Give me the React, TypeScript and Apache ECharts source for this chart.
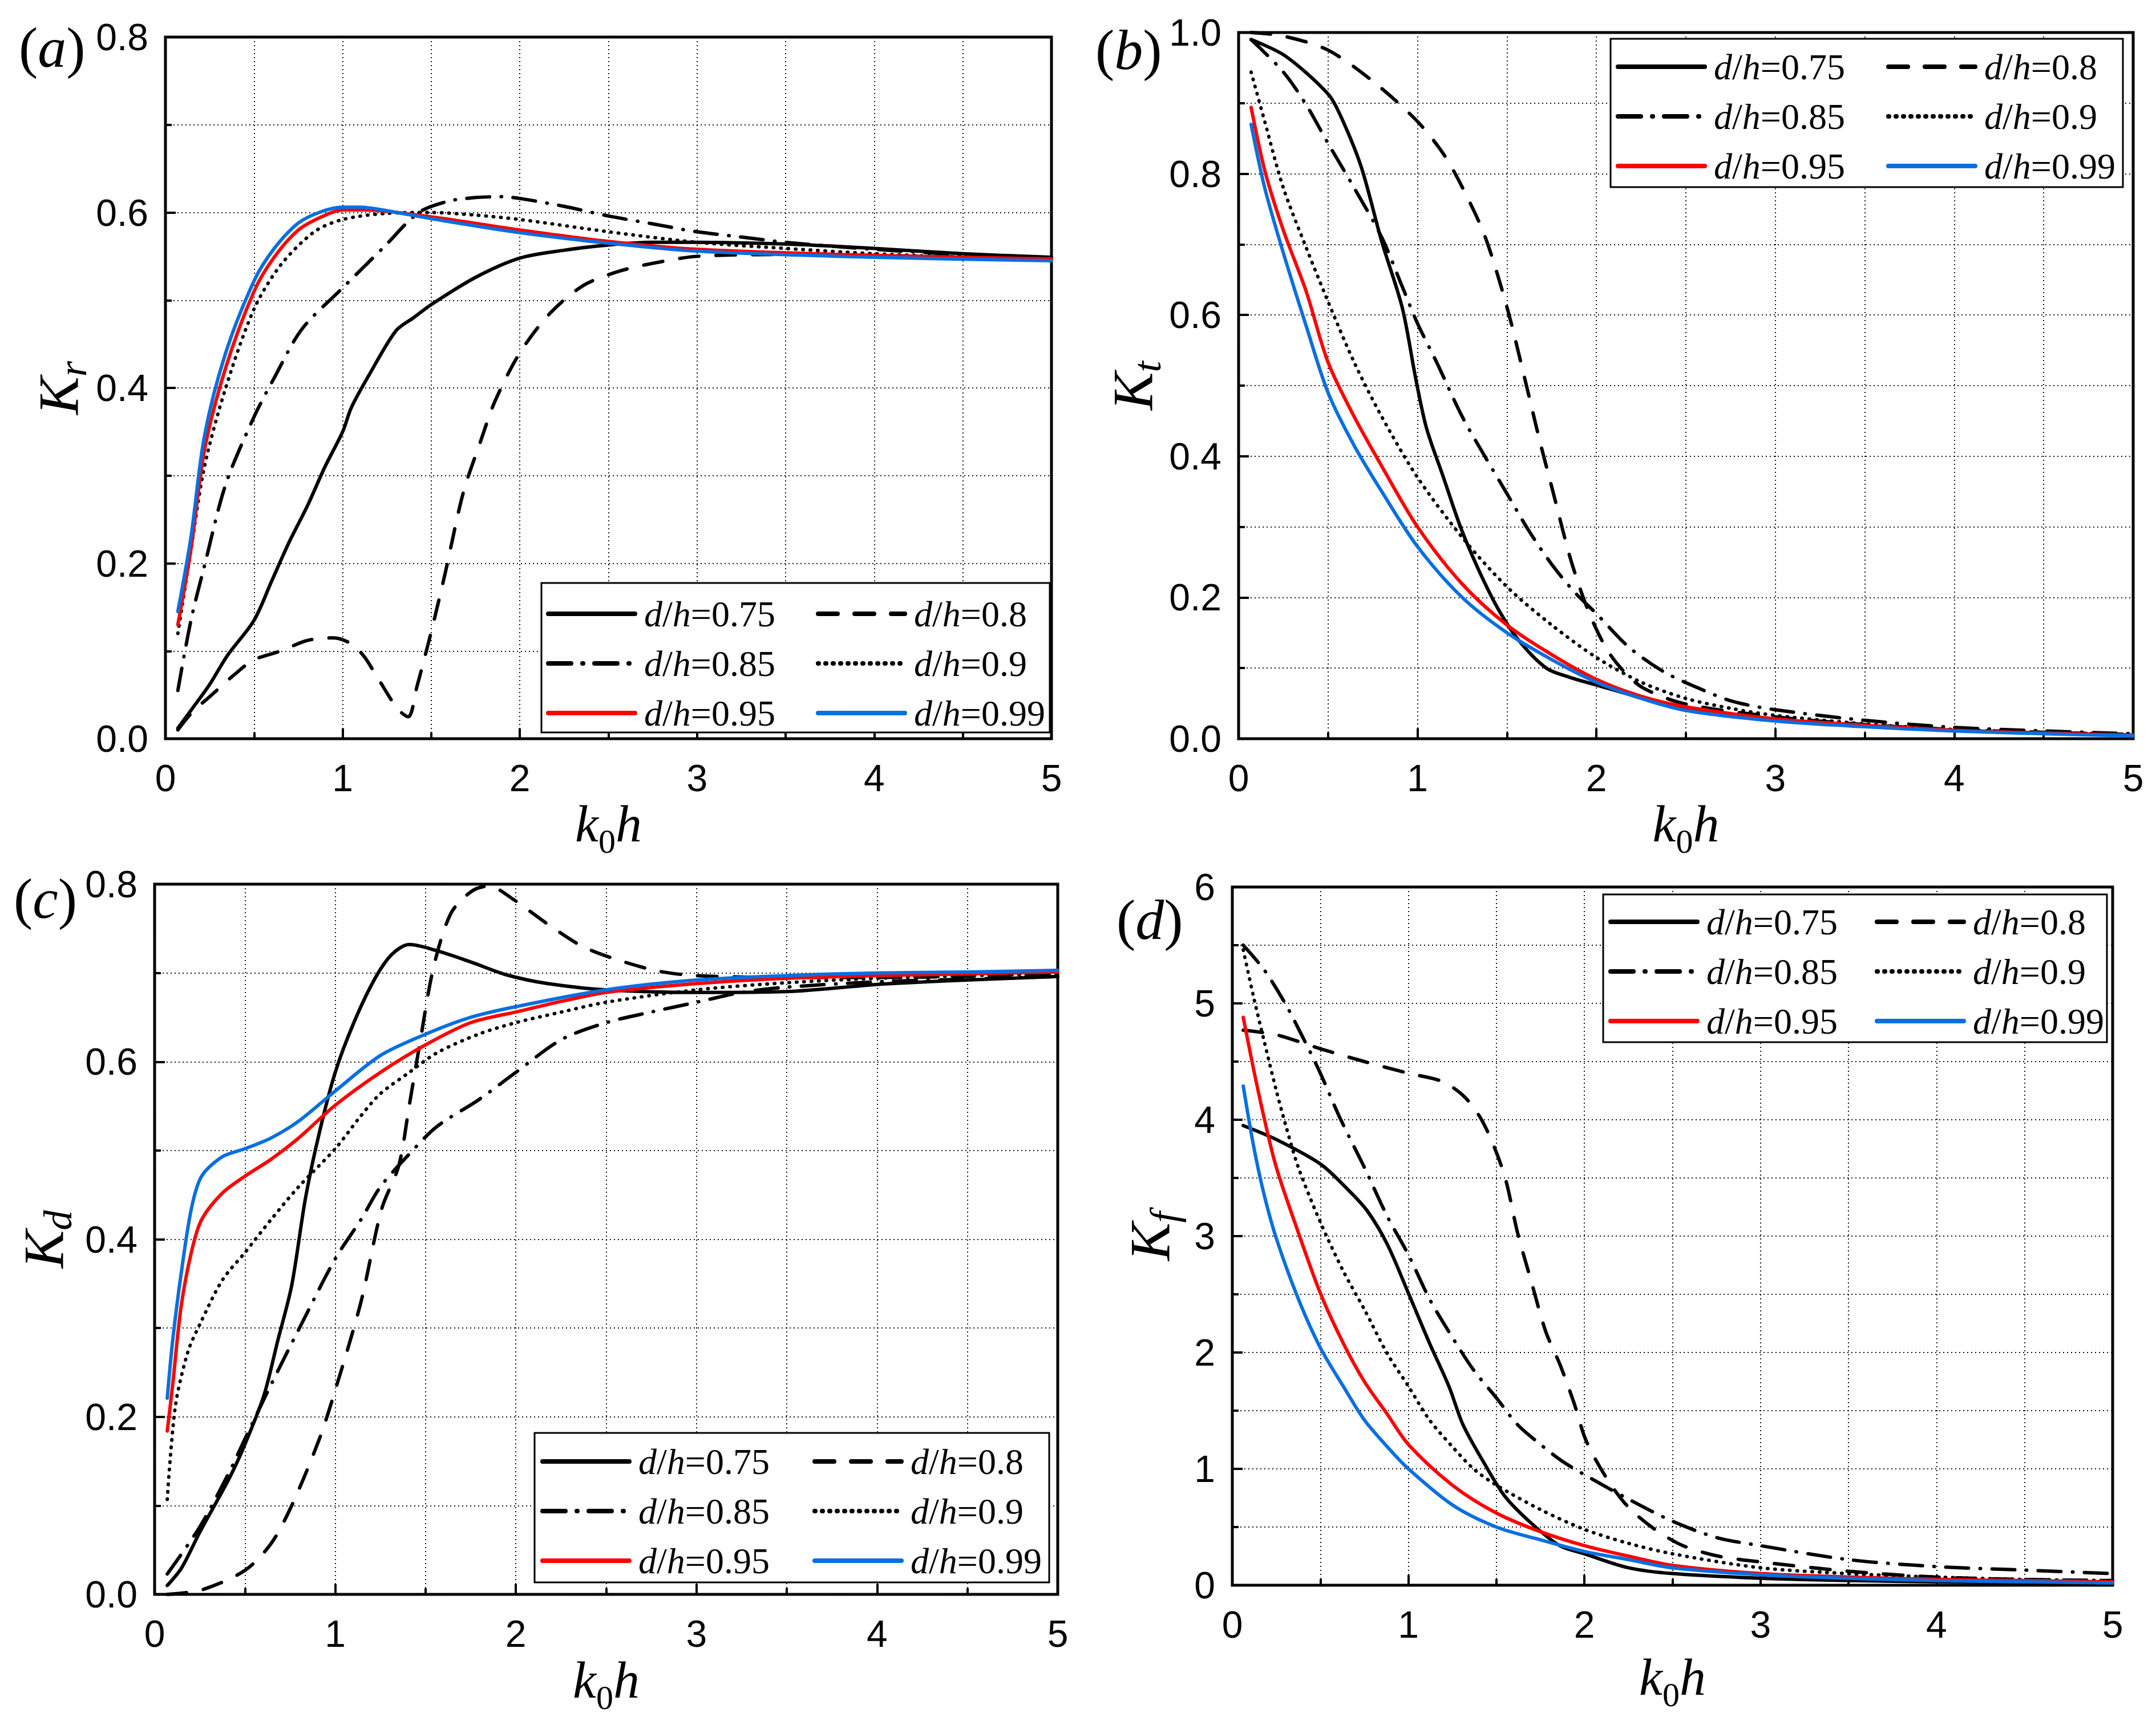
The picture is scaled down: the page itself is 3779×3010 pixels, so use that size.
import React, { useEffect, useRef } from 'react';
import * as echarts from 'echarts';

// (a) Kr
const kr075 = [[0.07, 0.012], [0.15, 0.034], [0.25, 0.062], [0.35, 0.095], [0.5, 0.135], [0.6, 0.18], [0.7, 0.225], [0.8, 0.265], [0.9, 0.31], [1.0, 0.35], [1.05, 0.378], [1.15, 0.415], [1.3, 0.465], [1.4, 0.48], [1.5, 0.495], [1.75, 0.526], [2.0, 0.548], [2.25, 0.557], [2.5, 0.563], [2.75, 0.566], [3.0, 0.566], [3.5, 0.564], [4.0, 0.559], [4.5, 0.553], [5.0, 0.549]];
const kr080 = [[0.07, 0.01], [0.15, 0.03], [0.25, 0.048], [0.4, 0.075], [0.5, 0.09], [0.65, 0.1], [0.8, 0.112], [0.95, 0.115], [1.05, 0.108], [1.12, 0.094], [1.19, 0.072], [1.31, 0.034], [1.37, 0.025], [1.42, 0.06], [1.5, 0.122], [1.58, 0.19], [1.68, 0.28], [1.78, 0.34], [1.86, 0.385], [2.0, 0.44], [2.17, 0.485], [2.36, 0.517], [2.56, 0.533], [2.75, 0.542], [3.0, 0.55], [3.5, 0.552], [4.0, 0.551], [4.5, 0.549], [5.0, 0.547]];
const kr085 = [[0.07, 0.055], [0.144, 0.135], [0.22, 0.197], [0.34, 0.29], [0.5, 0.367], [0.61, 0.41], [0.77, 0.467], [1.0, 0.514], [1.23, 0.56], [1.43, 0.6], [1.6, 0.613], [1.75, 0.617], [1.9, 0.618], [2.0, 0.616], [2.25, 0.607], [2.5, 0.596], [2.75, 0.587], [3.0, 0.578], [3.25, 0.572], [3.5, 0.566], [4.0, 0.558], [4.5, 0.552], [5.0, 0.548]];
const kr090 = [[0.07, 0.12], [0.14, 0.21], [0.22, 0.31], [0.34, 0.4], [0.5, 0.49], [0.65, 0.54], [0.84, 0.578], [1.0, 0.592], [1.25, 0.599], [1.5, 0.6], [1.75, 0.597], [2.0, 0.592], [2.5, 0.578], [3.0, 0.566], [3.5, 0.559], [4.0, 0.553], [4.5, 0.549], [5.0, 0.547]];
const kr095 = [[0.07, 0.13], [0.144, 0.216], [0.22, 0.329], [0.34, 0.423], [0.5, 0.51], [0.61, 0.548], [0.75, 0.58], [0.88, 0.595], [1.0, 0.603], [1.12, 0.603], [1.5, 0.595], [2.0, 0.58], [2.5, 0.567], [3.0, 0.558], [4.0, 0.551], [5.0, 0.547]];
const kr099 = [[0.07, 0.145], [0.144, 0.23], [0.22, 0.345], [0.34, 0.44], [0.5, 0.522], [0.61, 0.558], [0.75, 0.588], [0.88, 0.601], [1.0, 0.606], [1.1, 0.606], [1.25, 0.602], [1.5, 0.593], [2.0, 0.577], [2.5, 0.565], [3.0, 0.556], [4.0, 0.549], [5.0, 0.545]];

// (b) Kt
const kt075 = [[0.07, 0.99], [0.26, 0.967], [0.5, 0.913], [0.57, 0.882], [0.685, 0.81], [0.8, 0.704], [0.915, 0.61], [0.99, 0.51], [1.05, 0.44], [1.145, 0.37], [1.24, 0.3], [1.34, 0.24], [1.45, 0.184], [1.57, 0.138], [1.72, 0.1], [1.85, 0.087], [2.0, 0.076], [2.25, 0.058], [2.5, 0.044], [2.75, 0.034], [3.0, 0.027], [3.5, 0.018], [4.0, 0.012], [4.5, 0.008], [5.0, 0.005]];
const kt080 = [[0.07, 1.0], [0.25, 0.995], [0.5, 0.975], [0.76, 0.929], [1.0, 0.874], [1.145, 0.828], [1.25, 0.781], [1.376, 0.712], [1.5, 0.611], [1.607, 0.502], [1.68, 0.425], [1.76, 0.347], [1.856, 0.254], [1.95, 0.184], [2.05, 0.13], [2.14, 0.099], [2.26, 0.072], [2.5, 0.049], [3.0, 0.031], [3.5, 0.02], [4.0, 0.013], [4.5, 0.009], [5.0, 0.006]];
const kt085 = [[0.07, 0.99], [0.25, 0.944], [0.377, 0.898], [0.5, 0.843], [0.646, 0.78], [0.8, 0.71], [0.915, 0.64], [1.0, 0.588], [1.107, 0.533], [1.25, 0.456], [1.376, 0.4], [1.5, 0.347], [1.626, 0.293], [1.75, 0.247], [1.876, 0.208], [2.0, 0.177], [2.18, 0.13], [2.375, 0.095], [2.567, 0.072], [2.76, 0.053], [3.0, 0.041], [3.5, 0.026], [4.0, 0.016], [4.5, 0.011], [5.0, 0.007]];
const kt090 = [[0.07, 0.944], [0.146, 0.874], [0.25, 0.78], [0.377, 0.696], [0.5, 0.619], [0.646, 0.533], [0.8, 0.456], [1.0, 0.37], [1.25, 0.285], [1.5, 0.215], [1.75, 0.161], [2.0, 0.115], [2.25, 0.08], [2.5, 0.057], [2.75, 0.043], [3.0, 0.033], [3.5, 0.021], [4.0, 0.013], [4.5, 0.009], [5.0, 0.006]];
const kt095 = [[0.07, 0.894], [0.146, 0.805], [0.25, 0.72], [0.377, 0.634], [0.5, 0.533], [0.646, 0.456], [0.8, 0.386], [1.0, 0.3], [1.25, 0.219], [1.5, 0.161], [1.75, 0.119], [2.0, 0.084], [2.25, 0.06], [2.5, 0.045], [3.0, 0.028], [3.5, 0.019], [4.0, 0.012], [4.5, 0.008], [5.0, 0.005]];
const kt099 = [[0.07, 0.87], [0.146, 0.78], [0.25, 0.688], [0.377, 0.585], [0.5, 0.49], [0.646, 0.415], [0.8, 0.35], [1.0, 0.272], [1.25, 0.2], [1.5, 0.15], [1.75, 0.112], [2.0, 0.08], [2.25, 0.057], [2.5, 0.04], [3.0, 0.025], [3.5, 0.017], [4.0, 0.011], [4.5, 0.007], [5.0, 0.004]];

// (c) Kd
const kd075 = [[0.07, 0.01], [0.15, 0.03], [0.25, 0.07], [0.414, 0.131], [0.5, 0.169], [0.605, 0.224], [0.682, 0.286], [0.759, 0.348], [0.835, 0.446], [0.912, 0.52], [1.0, 0.588], [1.103, 0.644], [1.218, 0.693], [1.314, 0.721], [1.41, 0.732], [1.563, 0.725], [1.755, 0.712], [1.946, 0.698], [2.176, 0.688], [2.5, 0.681], [3.0, 0.678], [3.5, 0.679], [4.0, 0.687], [4.5, 0.692], [5.0, 0.696]];
const kd080 = [[0.07, 0.0], [0.26, 0.005], [0.5, 0.027], [0.644, 0.057], [0.759, 0.1], [0.912, 0.175], [1.0, 0.23], [1.142, 0.329], [1.257, 0.434], [1.352, 0.483], [1.41, 0.551], [1.467, 0.619], [1.544, 0.706], [1.64, 0.767], [1.755, 0.792], [1.85, 0.798], [1.985, 0.783], [2.176, 0.755], [2.368, 0.73], [2.56, 0.715], [2.79, 0.702], [3.0, 0.697], [3.5, 0.695], [4.0, 0.695], [4.5, 0.696], [5.0, 0.698]];
const kd085 = [[0.07, 0.023], [0.25, 0.076], [0.414, 0.138], [0.5, 0.175], [0.644, 0.236], [0.797, 0.298], [1.0, 0.378], [1.142, 0.422], [1.25, 0.459], [1.41, 0.496], [1.563, 0.527], [1.793, 0.557], [2.0, 0.588], [2.253, 0.625], [2.5, 0.644], [2.75, 0.656], [3.0, 0.667], [3.25, 0.678], [3.5, 0.684], [4.0, 0.69], [4.5, 0.693], [5.0, 0.696]];
const kd090 = [[0.07, 0.107], [0.115, 0.212], [0.184, 0.273], [0.25, 0.304], [0.375, 0.354], [0.5, 0.385], [0.644, 0.422], [0.797, 0.459], [1.0, 0.502], [1.142, 0.539], [1.25, 0.564], [1.41, 0.588], [1.563, 0.61], [1.793, 0.631], [2.0, 0.644], [2.253, 0.656], [2.5, 0.667], [3.0, 0.681], [3.5, 0.689], [4.0, 0.694], [4.5, 0.697], [5.0, 0.699]];
const kd095 = [[0.07, 0.184], [0.1, 0.236], [0.146, 0.323], [0.203, 0.385], [0.26, 0.422], [0.375, 0.452], [0.5, 0.471], [0.644, 0.49], [0.797, 0.514], [1.0, 0.551], [1.25, 0.588], [1.5, 0.619], [1.75, 0.644], [2.0, 0.656], [2.253, 0.668], [2.5, 0.678], [3.0, 0.688], [3.5, 0.694], [4.0, 0.697], [4.5, 0.699], [5.0, 0.701]];
const kd099 = [[0.07, 0.221], [0.1, 0.286], [0.146, 0.36], [0.203, 0.434], [0.26, 0.471], [0.375, 0.493], [0.5, 0.502], [0.644, 0.514], [0.797, 0.533], [1.0, 0.567], [1.25, 0.607], [1.5, 0.631], [1.75, 0.65], [2.0, 0.662], [2.5, 0.681], [3.0, 0.692], [3.5, 0.697], [4.0, 0.7], [4.5, 0.701], [5.0, 0.703]];

// (d) Kf
const kf075 = [[0.062, 3.95], [0.25, 3.83], [0.5, 3.62], [0.65, 3.41], [0.765, 3.22], [0.88, 2.93], [1.0, 2.51], [1.12, 2.08], [1.23, 1.71], [1.31, 1.38], [1.43, 1.05], [1.55, 0.76], [1.7, 0.53], [1.86, 0.34], [2.0, 0.27], [2.25, 0.15], [2.5, 0.1], [3.0, 0.06], [3.5, 0.04], [4.0, 0.03], [4.5, 0.02], [5.0, 0.015]];
const kf080 = [[0.062, 4.77], [0.25, 4.73], [0.5, 4.61], [0.75, 4.5], [1.0, 4.4], [1.19, 4.33], [1.31, 4.21], [1.4, 4.04], [1.47, 3.83], [1.55, 3.5], [1.62, 3.03], [1.7, 2.6], [1.78, 2.18], [1.86, 1.9], [1.94, 1.57], [2.01, 1.24], [2.13, 0.91], [2.25, 0.67], [2.4, 0.48], [2.56, 0.34], [2.76, 0.25], [3.0, 0.2], [3.5, 0.12], [4.0, 0.07], [4.5, 0.05], [5.0, 0.04]];
const kf085 = [[0.062, 5.5], [0.18, 5.29], [0.3, 5.0], [0.41, 4.68], [0.5, 4.4], [0.61, 4.02], [0.75, 3.59], [0.88, 3.17], [1.0, 2.84], [1.12, 2.46], [1.25, 2.13], [1.37, 1.85], [1.5, 1.61], [1.62, 1.38], [1.75, 1.21], [1.87, 1.07], [2.0, 0.95], [2.25, 0.74], [2.5, 0.55], [2.75, 0.41], [3.0, 0.34], [3.5, 0.22], [4.0, 0.16], [4.5, 0.13], [5.0, 0.1]];
const kf090 = [[0.062, 5.46], [0.12, 5.06], [0.18, 4.68], [0.25, 4.25], [0.3, 3.97], [0.375, 3.59], [0.5, 3.12], [0.63, 2.7], [0.75, 2.37], [0.88, 1.99], [1.0, 1.71], [1.12, 1.42], [1.25, 1.19], [1.37, 1.0], [1.5, 0.86], [1.75, 0.65], [2.0, 0.48], [2.25, 0.36], [2.5, 0.27], [3.0, 0.15], [3.5, 0.1], [4.0, 0.07], [4.5, 0.05], [5.0, 0.04]];
const kf095 = [[0.062, 4.88], [0.12, 4.44], [0.18, 4.02], [0.25, 3.59], [0.375, 3.03], [0.5, 2.51], [0.63, 2.08], [0.75, 1.75], [0.88, 1.47], [1.0, 1.21], [1.25, 0.86], [1.5, 0.62], [1.75, 0.46], [2.0, 0.34], [2.25, 0.25], [2.5, 0.17], [3.0, 0.1], [3.5, 0.07], [4.0, 0.05], [4.5, 0.04], [5.0, 0.03]];
const kf099 = [[0.062, 4.29], [0.12, 3.78], [0.18, 3.36], [0.25, 2.98], [0.375, 2.46], [0.5, 2.04], [0.63, 1.71], [0.75, 1.42], [0.88, 1.19], [1.0, 1.0], [1.25, 0.69], [1.5, 0.5], [1.75, 0.39], [2.0, 0.29], [2.25, 0.22], [2.5, 0.15], [3.0, 0.09], [3.5, 0.06], [4.0, 0.04], [4.5, 0.03], [5.0, 0.02]];

const levels = ['0.75', '0.8', '0.85', '0.9', '0.95', '0.99'];
const leftCol = ['0.75', '0.85', '0.95'];
const rightCol = ['0.8', '0.9', '0.99'];
const xTicks = { min: 0, max: 5, interval: 1 };

const lineTypes: any[] = ['solid', [34, 30], [40, 20, 1, 20], [1, 12], 'solid', 'solid'];
const colors = ['#000000', '#000000', '#000000', '#000000', '#ff0000', '#0a6fe0'];

const SERIF = 'Liberation Serif';
const SANS = 'Liberation Sans';

const panels = [
  {
    key: 'a', sub: 'r', series: [kr075, kr080, kr085, kr090, kr095, kr099], yMax: 0.8, yInt: 0.2, dec: 1,
    grid: { left: 290, top: 65, width: 1553, height: 1230 },
    leg: { x1: 957, x2: 1430, y: 1074, box: [949, 1022, 891, 262] },
    tag: { x: 33, y: 83 }, xGap: 102, yGap: 128,
  },
  {
    key: 'b', sub: 't', series: [kt075, kt080, kt085, kt090, kt095, kt099], yMax: 1.0, yInt: 0.2, dec: 1,
    grid: { left: 2171, top: 57, width: 1568, height: 1238 },
    leg: { x1: 2832, x2: 3306, y: 115, box: [2823, 68, 898, 260] },
    tag: { x: 1920, y: 87 }, xGap: 101, yGap: 118,
  },
  {
    key: 'c', sub: 'd', series: [kd075, kd080, kd085, kd090, kd095, kd099], yMax: 0.8, yInt: 0.2, dec: 1,
    grid: { left: 271, top: 1550, width: 1583, height: 1245 },
    leg: { x1: 947, x2: 1424, y: 2560, box: [937, 2512, 902, 262] },
    tag: { x: 24, y: 1575 }, xGap: 104, yGap: 135,
  },
  {
    key: 'd', sub: 'f', series: [kf075, kf080, kf085, kf090, kf095, kf099], yMax: 6, yInt: 1, dec: 0,
    grid: { left: 2160, top: 1555, width: 1543, height: 1224 },
    leg: { x1: 2819, x2: 3286, y: 1614, box: [2810, 1568, 883, 259] },
    tag: { x: 1957, y: 1612 }, xGap: 115, yGap: 85,
  },
];

const gridLine = { show: true, lineStyle: { color: '#111', width: 2, type: [2, 5] as any } };

export default function App() {
  const ref = useRef<HTMLDivElement>(null);

  useEffect(() => {
    document.body.style.margin = '0';
    if (!ref.current) return;
    const chart = echarts.init(ref.current, undefined, { renderer: 'svg' });

    const legendRich = {
      i: { fontFamily: SERIF, fontStyle: 'italic', fontSize: 64, lineHeight: 60, color: '#000' },
      n: { fontFamily: SERIF, fontSize: 64, lineHeight: 60, color: '#000' },
    };

    const grids: any[] = [];
    const xAxes: any[] = [];
    const yAxes: any[] = [];
    const series: any[] = [];
    const legends: any[] = [];
    const graphics: any[] = [];

    panels.forEach((p, i) => {
      grids.push({ ...p.grid, show: true, borderColor: '#000', borderWidth: 5, backgroundColor: 'transparent' });
      xAxes.push({
        gridIndex: i, type: 'value', ...xTicks,
        name: '{i|k}{s|0}{i|h}', nameLocation: 'middle', nameGap: p.xGap,
        nameTextStyle: {
          rich: {
            i: { fontFamily: SERIF, fontStyle: 'italic', fontSize: 92, lineHeight: 92, color: '#000' },
            // subscript: pushed down with top padding, kept out of the line height
            s: { fontFamily: SERIF, fontSize: 60, lineHeight: 10, verticalAlign: 'top', padding: [47, 0, 0, 0], color: '#000' },
          },
        },
        axisLine: { show: false },
        axisTick: { show: true, inside: true, length: 18, lineStyle: { color: '#000', width: 4 } },
        minorTick: { show: true, splitNumber: 2, length: 11, lineStyle: { color: '#000', width: 4 } },
        axisLabel: { fontFamily: SANS, fontSize: 66, color: '#000', margin: 36 },
        splitLine: gridLine,
        minorSplitLine: gridLine,
      });
      yAxes.push({
        gridIndex: i, type: 'value', min: 0, max: p.yMax, interval: p.yInt,
        name: `{k|K}{s|${p.sub}}`, nameLocation: 'middle', nameGap: p.yGap, nameRotate: 90,
        nameTextStyle: {
          rich: {
            k: { fontFamily: SERIF, fontStyle: 'italic', fontSize: 100, lineHeight: 120, color: '#000' },
            s: { fontFamily: SERIF, fontStyle: 'italic', fontSize: 70, verticalAlign: 'bottom', color: '#000' },
          },
        },
        axisLine: { show: false },
        axisTick: { show: true, inside: true, length: 18, lineStyle: { color: '#000', width: 4 } },
        minorTick: { show: true, splitNumber: 2, length: 11, lineStyle: { color: '#000', width: 4 } },
        axisLabel: {
          fontFamily: SANS, fontSize: 66, color: '#000', margin: 30,
          formatter: (v: number) => v.toFixed(p.dec),
        },
        splitLine: gridLine,
        minorSplitLine: gridLine,
      });
      levels.forEach((lv, j) => {
        series.push({
          type: 'line', name: `${p.key}:${lv}`, xAxisIndex: i, yAxisIndex: i,
          data: p.series[j], symbol: 'none', showSymbol: false, smooth: 0.3,
          lineStyle: { color: colors[j], width: 6, type: lineTypes[j], cap: 'round', join: 'round' },
          itemStyle: { color: colors[j] },
          z: j >= 4 ? 3 : 2,
        });
      });
      [[leftCol, p.leg.x1], [rightCol, p.leg.x2]].forEach(([col, x]: any) => {
        legends.push({
          orient: 'vertical', left: x, top: p.leg.y - 30, padding: 0, itemGap: 23,
          itemWidth: 152, itemHeight: 4, selectedMode: false,
          data: col.map((lv: string) => `${p.key}:${lv}`),
          formatter: (name: string) => `{i|d}{n|/}{i|h}{n|=${name.split(':')[1]}}`,
          textStyle: { fontFamily: SERIF, fontSize: 64, lineHeight: 60, padding: [0, 0, 0, 11], rich: legendRich },
          lineStyle: { width: 8, cap: 'round' },
          itemStyle: { opacity: 0 },
          z: 5,
        });
      });
      const [bx, by, bw, bh] = p.leg.box;
      graphics.push({
        type: 'rect', z: 4, shape: { x: bx, y: by, width: bw, height: bh },
        style: { fill: '#fff', stroke: '#000', lineWidth: 3 },
      });
      graphics.push({
        type: 'text', z: 4, x: p.tag.x, y: p.tag.y,
        style: {
          text: `{p|(}{i|${p.key}}{p|)}`,
          verticalAlign: 'middle', align: 'left',
          rich: {
            p: { fontFamily: SERIF, fontSize: 100, fill: '#000' },
            i: { fontFamily: SERIF, fontStyle: 'italic', fontSize: 100, fill: '#000' },
          },
        },
      });
    });

    chart.setOption({
      animation: false,
      backgroundColor: '#fff',
      grid: grids,
      xAxis: xAxes,
      yAxis: yAxes,
      series,
      legend: legends,
      graphic: graphics,
    });
    return () => chart.dispose();
  }, []);

  return <div ref={ref} style={{ width: 3779, height: 3010 }} />;
}
